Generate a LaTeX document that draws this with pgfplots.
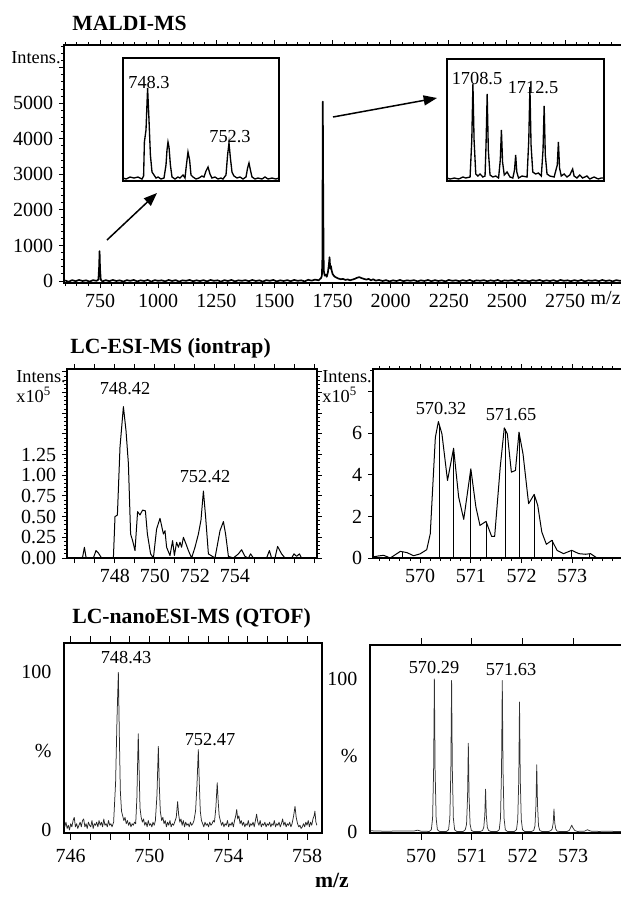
\documentclass[border=0pt]{standalone}
\usepackage{fontspec}
\setmainfont{Liberation Serif}
\usepackage{pgfplots}
\pgfplotsset{compat=1.18}
\usetikzlibrary{arrows.meta}
\pgfplotsset{spec/.style={scale only axis, anchor=south west,
  axis line style={line width=0.8pt},
  tick style={line width=0.6pt, black},
  tick align=outside, major tick length=3pt, minor tick length=1.8pt,
  /pgf/number format/assume math mode=true,
  /pgf/number format/1000 sep={},
  tick label style={font=\fontsize{12}{13}\selectfont},
  every axis plot/.append style={line join=round}},
  inset/.style={scale only axis, anchor=south west, axis line style={line width=0.8pt},
  xtick=\empty, ytick=\empty}}
\begin{document}
\begin{tikzpicture}[x=0.6pt,y=-0.6pt]
\useasboundingbox (0,0) rectangle (621,901);
\coordinate (AM) at (64,283);
\coordinate (AI1) at (123,181);
\coordinate (AI2) at (447,181);
\coordinate (AL) at (67,558);
\coordinate (AR) at (373,558);
\coordinate (QL) at (64,833);
\coordinate (QR) at (370,833);
\tikzset{ttl/.style={anchor=west,inner sep=0pt,font=\fontsize{13}{14}\selectfont\bfseries},
  pk/.style={font=\fontsize{11}{12}\selectfont, inner sep=0pt}}
\node[ttl] at (72,23) {MALDI-MS};
\node[ttl] at (70,348) {LC-ESI-MS (iontrap)};
\node[ttl] at (72,618) {LC-nanoESI-MS (QTOF)};
\node[font=\fontsize{13}{14}\selectfont\bfseries] at (332,880) {m/z};

% ---------------- MALDI ----------------
\begin{axis}[spec, at={(AM)}, width=339.6pt, height=142.8pt,
  xmin=595, xmax=3029, ymin=-56, ymax=6640,
  xtick={750,1000,...,2750}, minor xtick={600,650,...,3000},
  ytick={0,1000,...,6000}, yticklabels={0,1000,2000,3000,4000,5000,{}},
  minor ytick={0,200,...,6600}]
\addplot[black, line width=1pt] coordinates {
(600,15)(615,-20)(630,25)(645,-5)(660,30)(675,0)(690,20)(705,-15)(720,25)(735,5)(743,40)(746,400)(748,840)(750,350)(753,40)(760,-10)(775,25)(790,-5)(805,30)(820,0)(835,20)(850,-15)(865,25)(880,5)(895,30)(910,-10)(925,20)(940,0)(955,30)(970,-15)(985,25)(1000,5)(1015,20)(1030,-10)(1045,30)(1060,0)(1075,25)(1090,-15)(1105,20)(1120,5)(1135,30)(1150,-5)(1165,20)(1180,0)(1195,25)(1210,-10)(1225,30)(1240,5)(1255,20)(1270,-15)(1285,25)(1300,0)(1315,30)(1330,-10)(1345,20)(1360,5)(1375,25)(1390,-5)(1405,30)(1420,0)(1435,20)(1450,-15)(1465,25)(1480,5)(1495,30)(1510,-10)(1525,20)(1540,0)(1555,25)(1570,-5)(1585,30)(1600,5)(1615,20)(1630,-10)(1645,35)(1660,10)(1675,40)(1690,20)(1700,80)(1704,150)(1706,600)(1708,5050)(1710,2000)(1712,300)(1716,150)(1720,180)(1725,120)(1730,250)(1734,450)(1737,670)(1740,350)(1743,420)(1746,300)(1750,200)(1755,150)(1760,120)(1768,90)(1775,70)(1785,50)(1795,60)(1805,30)(1815,45)(1825,20)(1835,40)(1845,60)(1855,90)(1865,110)(1875,80)(1885,60)(1895,40)(1905,60)(1915,20)(1925,50)(1935,10)(1950,30)(1965,0)(1980,25)(1995,-10)(2010,20)(2025,0)(2040,30)(2055,-5)(2070,20)(2085,5)(2100,25)(2115,-10)(2130,20)(2145,0)(2160,30)(2175,-5)(2190,25)(2205,0)(2220,20)(2235,-10)(2250,30)(2265,5)(2280,20)(2295,-5)(2310,25)(2325,0)(2340,30)(2355,-10)(2370,20)(2385,5)(2400,25)(2415,-5)(2430,20)(2445,0)(2460,30)(2475,-10)(2490,20)(2505,5)(2520,25)(2535,-5)(2550,30)(2565,0)(2580,20)(2595,-10)(2610,25)(2625,5)(2640,30)(2655,-5)(2670,20)(2685,0)(2700,25)(2715,-10)(2730,30)(2745,5)(2760,20)(2775,-5)(2790,25)(2805,0)(2820,30)(2835,-10)(2850,20)(2865,5)(2880,25)(2895,-5)(2910,30)(2925,0)(2940,20)(2955,-10)(2970,25)(2985,5)(3000,20)(3015,0)(3030,15)};
\end{axis}
\node[pk, anchor=east] at (61,58) {Intens.};
\node[pk, anchor=east, font=\fontsize{12}{13}\selectfont] at (621,298) {m/z};

% inset 1
\begin{axis}[inset, at={(AI1)}, width=93.6pt, height=73.8pt,
  xmin=746.75, xmax=754.55, ymin=-1, ymax=122]
\addplot[black, line width=0.8pt] coordinates {
(746.75,2)(746.9,1)(747.1,3)(747.3,2)(747.5,3)(747.7,1)(747.78,4)(747.82,38)(747.9,50)(747.98,92)(748.05,60)(748.12,25)(748.2,8)(748.3,5)(748.4,2)(748.5,3)(748.65,1)(748.8,2)(748.9,15)(748.95,30)(749.0,38)(749.05,33)(749.12,15)(749.2,3)(749.35,1)(749.5,3)(749.6,2)(749.75,5)(749.85,2)(749.92,15)(750.0,28)(750.08,20)(750.15,5)(750.25,3)(750.4,1)(750.55,2)(750.7,4)(750.8,3)(750.9,9)(751.0,13)(751.1,6)(751.2,2)(751.35,3)(751.5,1)(751.65,2)(751.75,1)(751.9,5)(751.98,25)(752.05,37)(752.12,22)(752.2,8)(752.3,4)(752.45,2)(752.6,3)(752.75,1)(752.9,3)(752.98,12)(753.05,17)(753.12,10)(753.2,3)(753.35,1)(753.5,2)(753.7,1)(753.85,3)(754.0,1)(754.2,2)(754.4,1)(754.55,2)};
\end{axis}
\node[pk] at (149,83) {748.3};
\node[pk] at (230,137) {752.3};

% inset 2
\begin{axis}[inset, at={(AI2)}, width=94.2pt, height=73.2pt,
  xmin=1706.68, xmax=1717.7, ymin=-1, ymax=121]
\addplot[black, line width=0.8pt] coordinates {
(1706.68,2)(1706.9,1)(1707.2,2)(1707.5,1)(1707.8,3)(1708.0,2)(1708.3,3)(1708.42,40)(1708.5,96)(1708.58,40)(1708.7,6)(1708.85,4)(1709.0,6)(1709.2,3)(1709.35,4)(1709.42,35)(1709.5,86)(1709.58,30)(1709.7,5)(1709.9,3)(1710.1,4)(1710.3,2)(1710.42,20)(1710.5,50)(1710.58,18)(1710.7,5)(1710.9,8)(1711.1,3)(1711.3,2)(1711.42,10)(1711.5,25)(1711.58,8)(1711.7,2)(1711.95,4)(1712.3,3)(1712.42,40)(1712.5,93)(1712.58,35)(1712.7,8)(1712.9,6)(1713.1,7)(1713.3,4)(1713.42,30)(1713.5,74)(1713.58,25)(1713.7,6)(1713.9,4)(1714.2,3)(1714.42,15)(1714.5,38)(1714.58,12)(1714.7,4)(1714.9,6)(1715.1,3)(1715.3,5)(1715.5,11)(1715.6,4)(1715.8,2)(1716.0,5)(1716.2,2)(1716.5,4)(1716.7,1)(1717.0,3)(1717.3,1)(1717.5,2)(1717.7,2)};
\end{axis}
\node[pk] at (477,79) {1708.5};
\node[pk] at (533,88) {1712.5};

\draw[line width=0.9pt, -{Triangle[length=8pt,width=6pt]}] (107,240) -- (157,193);
\draw[line width=0.9pt, -{Triangle[length=8pt,width=6pt]}] (333,117) -- (437,98);

% ---------------- iontrap left ----------------
\begin{axis}[spec, at={(AL)}, width=150pt, height=113.4pt,
  xmin=745.6, xmax=758.1, ymin=0, ymax=2.285,
  xtick={746,...,758}, xticklabels={,,748,,750,,752,,754,,,,},
  ytick={0,0.25,...,2.25}, yticklabels={0.00,0.25,0.50,0.75,1.00,1.25,{},{},{},{}},
  minor y tick num=4]
\addplot[black, line width=0.6pt] coordinates {
(745.58,0)(746.25,0)(746.38,0.01)(746.47,0.13)(746.55,0.01)(746.67,0)(746.92,0)(747.05,0.09)(747.17,0.06)(747.33,0)(747.92,0)(748.0,0.50)(748.12,0.52)(748.25,1.34)(748.42,1.83)(748.55,1.54)(748.67,1.14)(748.78,0.29)(748.88,0.21)(749.0,0.09)(749.13,0.56)(749.25,0.52)(749.38,0.58)(749.52,0.57)(749.62,0.29)(749.78,0.05)(749.92,0)(750.08,0.35)(750.25,0.48)(750.42,0.29)(750.5,0.33)(750.58,0.13)(750.75,0.03)(750.88,0.21)(750.97,0.03)(751.08,0.19)(751.17,0.13)(751.25,0.19)(751.33,0.13)(751.42,0.25)(751.55,0.17)(751.67,0.09)(751.83,0)(752.0,0.13)(752.17,0.29)(752.3,0.46)(752.42,0.81)(752.53,0.50)(752.67,0.05)(753.0,0)(753.25,0.33)(753.42,0.44)(753.53,0.29)(753.67,0.02)(753.92,0)(754.17,0.05)(754.33,0.10)(754.5,0.02)(754.67,0)(754.78,0.05)(754.92,0)(755.58,0)(755.72,0.09)(755.83,0)(756.0,0)(756.13,0.14)(756.33,0.05)(756.5,0)(756.83,0)(756.95,0.05)(757.08,0.02)(757.22,0.05)(757.33,0)(758.08,0)};
\end{axis}
\node[pk, anchor=west] at (16,377) {Intens.};
\node[pk, anchor=west] at (16,395) {x10\textsuperscript{5}};
\node[pk] at (125,389) {748.42};
\node[pk] at (205,477) {752.42};

% ---------------- iontrap right ----------------
\begin{axis}[spec, at={(AR)}, width=154.2pt, height=113.4pt,
  xmin=569.07, xmax=574.14, ymin=0, ymax=9.09,
  xtick={570,571,572,573},
  minor xtick={569.2,569.4,569.6,569.8,570.2,570.4,570.6,570.8,571.2,571.4,571.6,571.8,572.2,572.4,572.6,572.8,573.2,573.4,573.6,573.8,574.0},
  ytick={0,2,4,6,8}, yticklabels={0,2,4,6,{}}, minor ytick={1,3,5,7,9}]
\addplot[black, line width=0.6pt] coordinates {
(569.07,0.05)(569.18,0.1)(569.28,0.13)(569.41,0)(569.61,0.32)(569.74,0.26)(569.87,0.11)(570.0,0.2)(570.13,0.4)(570.2,1.17)(570.30,5.8)(570.36,6.56)(570.43,5.97)(570.54,3.73)(570.66,5.28)(570.76,2.93)(570.86,1.86)(571.0,4.29)(571.1,2.45)(571.18,1.57)(571.30,1.76)(571.41,1.04)(571.47,1.04)(571.58,4.37)(571.66,6.26)(571.72,5.97)(571.80,4.13)(571.88,4.21)(571.95,6.05)(572.03,5.0)(572.14,2.61)(572.25,3.06)(572.32,2.53)(572.40,1.25)(572.49,0.66)(572.60,0.85)(572.70,0.37)(572.83,0.21)(572.99,0.37)(573.13,0.21)(573.26,0.18)(573.36,0.21)(573.49,0)(574.14,0)};
\addplot[black, line width=0.4pt, ycomb] coordinates {
(569.64,0.3)(570.38,6.4)(570.66,5.25)(571.0,4.25)(571.30,1.72)(571.68,6.2)(571.95,6.0)(572.25,3.02)(572.60,0.85)(572.99,0.36)(573.34,0.2)};
\end{axis}
\node[pk, anchor=west] at (322,377) {Intens.};
\node[pk, anchor=west] at (322,395) {x10\textsuperscript{5}};
\node[pk] at (441,409) {570.32};
\node[pk] at (511,415) {571.65};

% ---------------- QTOF left ----------------
\begin{axis}[spec, at={(QL)}, width=154.8pt, height=114pt,
  xmin=745.66, xmax=758.76, ymin=-1.9, ymax=118.6,
  xtick={746,...,758}, xticklabels={746,,,,750,,,,754,,,,758},
  ytick={0,50,100}, yticklabels={0,\%,100}, ytick style={draw=none},
  major tick length=4pt, xticklabel style={yshift=-2pt}]
\addplot[black!85, line width=0.45pt] coordinates {
(745.70,2)(745.76,5)(745.82,1)(745.88,3)(745.94,0)(746.00,4)(746.06,2)(746.12,6)(746.18,8)(746.24,2)(746.30,4)(746.36,1)(746.42,3)(746.48,5)(746.54,2)(746.60,6)(746.66,7)(746.72,2)(746.78,4)(746.84,1)(746.90,5)(746.96,3)(747.02,2)(747.08,6)(747.14,1)(747.20,4)(747.26,3)(747.32,5)(747.38,2)(747.44,6)(747.50,3)(747.56,5)(747.62,2)(747.68,7)(747.74,3)(747.80,4)(747.86,2)(747.92,6)(747.98,3)(748.04,4)(748.10,2)(748.18,5)(748.28,30)(748.35,70)(748.42,100)(748.47,60)(748.52,25)(748.58,12)(748.64,9)(748.70,6)(748.76,8)(748.82,4)(748.88,6)(748.94,3)(749.00,5)(749.06,2)(749.12,4)(749.18,3)(749.24,5)(749.30,4)(749.36,20)(749.43,61)(749.48,35)(749.52,14)(749.58,8)(749.64,5)(749.70,7)(749.76,3)(749.82,5)(749.88,2)(749.94,6)(750.00,3)(750.06,4)(750.12,2)(750.18,5)(750.24,3)(750.30,6)(750.38,22)(750.45,53)(750.50,28)(750.55,12)(750.62,6)(750.68,8)(750.74,4)(750.80,6)(750.86,2)(750.92,5)(750.98,3)(751.04,6)(751.10,2)(751.16,4)(751.22,3)(751.28,5)(751.36,8)(751.43,18)(751.48,10)(751.54,5)(751.60,7)(751.66,3)(751.72,6)(751.78,2)(751.84,5)(751.90,3)(751.96,4)(752.02,2)(752.08,5)(752.14,3)(752.20,4)(752.26,6)(752.34,12)(752.41,28)(752.48,51)(752.53,30)(752.58,12)(752.64,6)(752.70,4)(752.76,2)(752.82,5)(752.88,3)(752.94,4)(753.00,2)(753.06,5)(753.12,3)(753.18,4)(753.24,6)(753.30,5)(753.37,14)(753.44,30)(753.49,18)(753.54,9)(753.60,6)(753.66,3)(753.72,5)(753.78,2)(753.84,4)(753.90,3)(753.96,6)(754.02,2)(754.08,4)(754.14,3)(754.20,5)(754.26,2)(754.32,6)(754.38,9)(754.43,13)(754.48,7)(754.54,9)(754.60,4)(754.66,6)(754.72,3)(754.78,5)(754.84,2)(754.90,4)(754.96,3)(755.02,6)(755.08,2)(755.14,4)(755.20,3)(755.26,5)(755.32,2)(755.38,6)(755.44,10)(755.50,5)(755.56,3)(755.62,6)(755.68,2)(755.74,4)(755.80,3)(755.86,5)(755.92,2)(755.98,4)(756.04,3)(756.10,5)(756.16,2)(756.22,4)(756.28,3)(756.34,6)(756.40,2)(756.46,4)(756.52,3)(756.58,5)(756.64,2)(756.70,4)(756.76,7)(756.82,3)(756.88,5)(756.94,2)(757.00,4)(757.06,3)(757.12,5)(757.18,2)(757.24,4)(757.32,9)(757.39,15)(757.45,8)(757.52,4)(757.58,2)(757.64,3)(757.70,1)(757.76,2)(757.82,4)(757.88,2)(757.94,5)(758.00,3)(758.06,6)(758.12,2)(758.18,5)(758.24,3)(758.30,7)(758.36,9)(758.40,12)(758.45,5)(758.50,3)};
\end{axis}
\node[pk] at (126,658) {748.43};
\node[pk] at (210,740) {752.47};

% ---------------- QTOF right ----------------
\begin{axis}[spec, at={(QR)}, width=156pt, height=112.8pt,
  xmin=568.99, xmax=574.12, ymin=-0.65, ymax=122.2,
  xtick={570,571,572,573},
  ytick={0,50,100}, yticklabels={0,\%,100}, ytick style={draw=none},
  major tick length=4pt, xticklabel style={yshift=-2pt}]
\addplot[black!80, line width=0.45pt] coordinates {
(569.0,0.8)(569.3,0.5)(569.6,0.7)(569.85,0.6)(569.93,1.2)(570.0,0.5)(570.16,0.4)
(570.20,1.5)(570.225,9)(570.245,40)(570.26,100)(570.275,40)(570.295,9)(570.32,1.5)(570.36,0.4)
(570.50,0.4)(570.54,1.5)(570.565,9)(570.585,40)(570.60,99)(570.615,40)(570.635,9)(570.66,1.5)(570.70,0.4)
(570.83,0.4)(570.87,1.5)(570.895,5)(570.915,23)(570.93,58)(570.945,23)(570.965,5)(570.99,1)(571.03,0.4)
(571.17,0.4)(571.21,1)(571.235,3)(571.255,11)(571.27,28)(571.285,11)(571.305,3)(571.33,1)(571.37,0.4)
(571.50,0.4)(571.54,1.5)(571.565,9)(571.585,40)(571.60,99)(571.615,40)(571.635,9)(571.66,1.5)(571.70,0.4)
(571.84,0.4)(571.88,1.5)(571.905,8)(571.925,34)(571.94,85)(571.955,34)(571.975,8)(572.00,1.5)(572.04,0.4)
(572.18,0.4)(572.22,1)(572.245,4)(572.265,18)(572.28,44)(572.295,18)(572.315,4)(572.34,1)(572.38,0.4)
(572.52,0.4)(572.56,1)(572.585,2)(572.605,6)(572.62,15)(572.635,6)(572.655,2)(572.68,0.6)(572.72,0.4)
(572.88,0.4)(572.92,1)(572.95,3)(572.97,4.5)(572.99,3)(573.03,1)(573.08,0.4)
(573.22,0.5)(573.28,1.5)(573.34,0.6)(573.5,0.4)(573.7,0.5)(573.9,0.3)(574.12,0.4)};
\end{axis}
\node[pk] at (434,668) {570.29};
\node[pk] at (511,670) {571.63};
\end{tikzpicture}
\end{document}
